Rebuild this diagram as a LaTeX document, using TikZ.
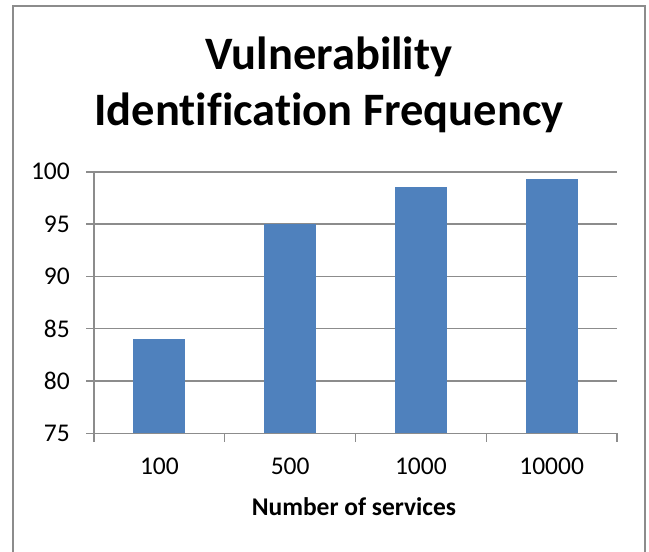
\documentclass[tikz,border=0pt]{standalone}
\usepackage{fontspec}
\setmainfont[Ligatures = NoCommon]{Carlito}
\definecolor{barblue}{HTML}{4F81BD}
\definecolor{gridgray}{HTML}{8C8C8C}
\tikzset{
  gridline/.style = {draw = gridgray, line width = 1.4pt},
  bar/.style = {fill = barblue},
  ticklabel/.style = {font = \fontsize{25.5}{30}\selectfont, inner sep = 0pt},
  charttitle/.style = {font = \fontsize{46.5}{56}\selectfont\bfseries, inner sep = 0pt}
}
\begin{document}
\begin{tikzpicture}[x = 1pt, y = -1pt]
        \useasboundingbox (0,0) rectangle (649,552);
        \clip (0,0) rectangle (649,552);
        % outer frame
        \draw[gridline] (13,6) rectangle (645,580);
        % title
        \node[charttitle] (title1) at (329,57) {Vulnerability};
        \node[charttitle] (title2) at (329,113) {Identification Frequency};
        % value axis, gridlines and labels
        \foreach \v in {75,80,...,100} {
            \pgfmathsetmacro{\yy}{433.3 - (\v - 75)*10.46}
            \draw[gridline] (86,\yy) -- (617,\yy);
            \node[ticklabel, anchor = east] (ylab\v) at (70,\yy) {\v};
        }
        \draw[gridline] (94,171.7) -- (94,442);
        % bars
        \foreach \c/\v/\lab in {0/84/100, 1/95/500, 2/98.5/1000, 3/99.3/10000} {
            \pgfmathsetmacro{\xx}{159.4 + \c*130.75}
            \pgfmathsetmacro{\yy}{433.3 - (\v - 75)*10.46}
            \fill[bar] (\xx - 26,\yy) rectangle (\xx + 26,432.6);
            \node[ticklabel] (xlab\lab) at (\xx,466) {\lab};
        }
        % category ticks
        \foreach \c in {0,...,4} {
            \draw[gridline] ({94 + \c*130.75},433.3) -- ({94 + \c*130.75},442);
        }
        \node[ticklabel, font = \fontsize{25.5}{30}\selectfont\bfseries] (xtitle) at (354,507) {Number of services};
    \end{tikzpicture}
\end{document}
